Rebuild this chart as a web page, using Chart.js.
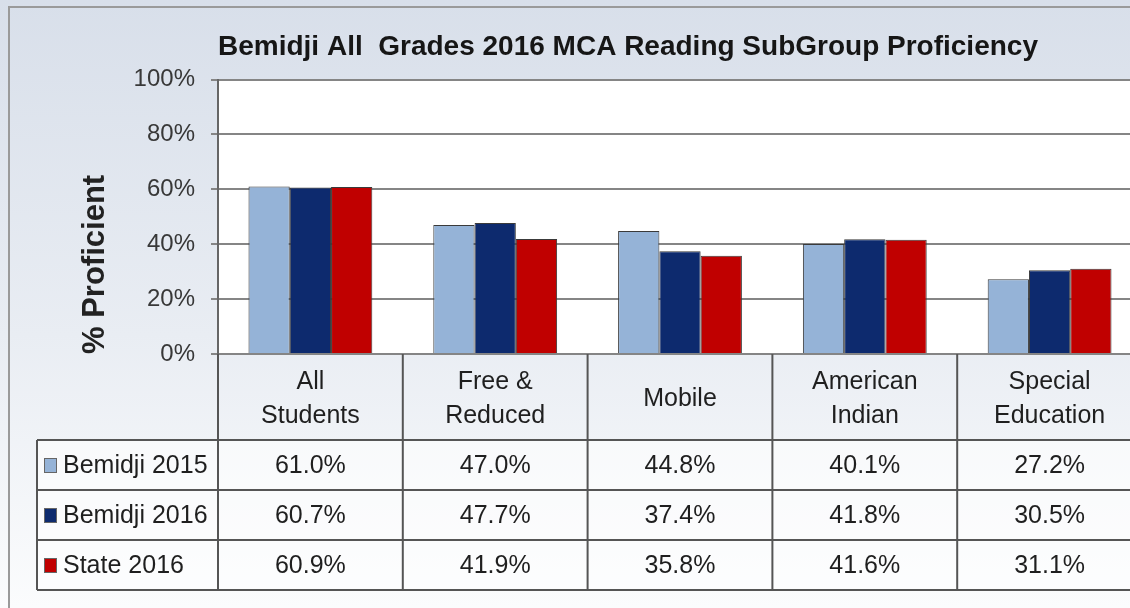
<!DOCTYPE html>
<html>
<head>
<meta charset="utf-8">
<script src="https://cdn.jsdelivr.net/npm/chart.js@4"></script>
<style>
  html,body{margin:0;padding:0;background:#fff;overflow:hidden;}
  #wrap{width:1142px;height:608px;}
</style>
</head>
<body>
<div id="wrap"><canvas id="subChart" width="1142" height="608"></canvas></div>
<script>
const categories = [["All","Students"],["Free &","Reduced"],["Mobile"],["American","Indian"],["Special","Education"]];
const seriesNames = ["Bemidji 2015","Bemidji 2016","State 2016"];
const bemidji2015 = [61.0,47.0,44.8,40.1,27.2];
const bemidji2016 = [60.7,47.7,37.4,41.8,30.5];
const state2016 = [60.9,41.9,35.8,41.6,31.1];
const seriesColors = ["#95b3d7","#0d2a6e","#c00000"];

const FONT = '"Liberation Sans", Arial, sans-serif';

// background, frame and white plot area
const backdrop = {
  id:'backdrop',
  beforeDraw(chart){
    const c = chart.ctx, a = chart.chartArea;
    const g = c.createLinearGradient(0,0,0,chart.height);
    g.addColorStop(0,'#d8dfea');
    g.addColorStop(0.55,'#e9edf3');
    g.addColorStop(1,'#fbfcfd');
    c.save();
    c.fillStyle = g;
    c.fillRect(0,0,chart.width,chart.height);
    c.strokeStyle = '#9a9a9a';
    c.lineWidth = 2;
    c.beginPath();
    c.moveTo(9,chart.height);
    c.lineTo(9,7);
    c.lineTo(chart.width,7);
    c.stroke();
    c.fillStyle = '#ffffff';
    c.fillRect(a.left,a.top,a.right-a.left,a.bottom-a.top);
    c.restore();
  }
};

// data table under the plot
const dataTable = {
  id:'dataTable',
  afterDraw(chart){
    const c = chart.ctx, a = chart.chartArea, x = chart.scales.x;
    const rowTop = a.bottom, headH = 86, rowH = 50, legLeft = 37;
    const rows = [bemidji2015,bemidji2016,state2016];
    const bottom = rowTop + headH + rowH*rows.length;
    const half = (x.getPixelForValue(1)-x.getPixelForValue(0))/2;
    c.save();
    c.fillStyle = 'rgba(255,255,255,0.55)';
    c.fillRect(legLeft,rowTop+headH,chart.width-legLeft,rowH*rows.length);
    c.strokeStyle = '#555555';
    c.lineWidth = 2;
    c.beginPath();
    for(let r=0;r<=rows.length;r++){
      const y = rowTop+headH+r*rowH;
      c.moveTo(legLeft,y); c.lineTo(chart.width,y);
    }
    c.moveTo(legLeft,rowTop+headH); c.lineTo(legLeft,bottom);
    c.moveTo(a.left,rowTop); c.lineTo(a.left,bottom);
    categories.forEach((cat,i)=>{
      const xr = x.getPixelForValue(i)+half;
      c.moveTo(xr,rowTop); c.lineTo(xr,bottom);
    });
    c.stroke();

    c.fillStyle = '#1f1f1f';
    c.textAlign = 'center';
    c.textBaseline = 'middle';
    c.font = '25px '+FONT;
    categories.forEach((cat,i)=>{
      const cx = x.getPixelForValue(i);
      const mid = rowTop+headH/2+2;
      cat.forEach((line,j)=>{
        c.fillText(line,cx,mid+(j-(cat.length-1)/2)*34);
      });
      rows.forEach((vals,r)=>{
        c.fillText(vals[i].toFixed(1)+'%',cx,rowTop+headH+r*rowH+rowH/2+1);
      });
    });
    c.textAlign = 'left';
    seriesNames.forEach((name,r)=>{
      const cy = rowTop+headH+r*rowH+rowH/2;
      c.fillStyle = seriesColors[r];
      c.fillRect(44,cy-7,13,15);
      c.strokeStyle = '#666';
      c.lineWidth = 1;
      c.strokeRect(44.5,cy-6.5,12,14);
      c.fillStyle = '#1f1f1f';
      c.fillText(name,63,cy+1);
    });
    c.restore();
  }
};

const ctx = document.getElementById("subChart").getContext("2d");

new Chart(ctx,{
  type:'bar',
  data:{
    labels:categories,
    datasets:seriesNames.map((name,i)=>({
      label:name,
      data:[bemidji2015,bemidji2016,state2016][i],
      backgroundColor:seriesColors[i],
      borderColor:'#3a3a3a',
      borderWidth:1,
      categoryPercentage:0.67,
      barPercentage:1.0
    }))
  },
  options:{
    responsive:false,
    animation:false,
    layout:{padding:{top:0,left:0,right:0,bottom:254}},
    plugins:{
      legend:{display:false},
      tooltip:{enabled:false},
      title:{
        display:true,
        text:'Bemidji All  Grades 2016 MCA Reading SubGroup Proficiency',
        align:'start',
        fullSize:false,
        color:'#161616',
        font:{family:FONT,size:28,weight:'bold'},
        padding:{top:30,bottom:16}
      }
    },
    scales:{
      x:{display:false},
      y:{
        min:0,max:100,
        afterFit(s){ s.width = 218; },
        ticks:{
          stepSize:20,
          callback:v=>v+'%',
          color:'#383838',
          font:{family:FONT,size:24},
          padding:16
        },
        grid:{color:'#858585',lineWidth:2,tickLength:7},
        border:{color:'#666666',width:2},
        title:{
          display:true,
          text:'% Proficient',
          align:'start',
          color:'#222222',
          font:{family:FONT,size:31,weight:'bold'},
          padding:{top:77,bottom:0}
        }
      }
    }
  },
  plugins:[backdrop,dataTable]
});
</script>
</body>
</html>
